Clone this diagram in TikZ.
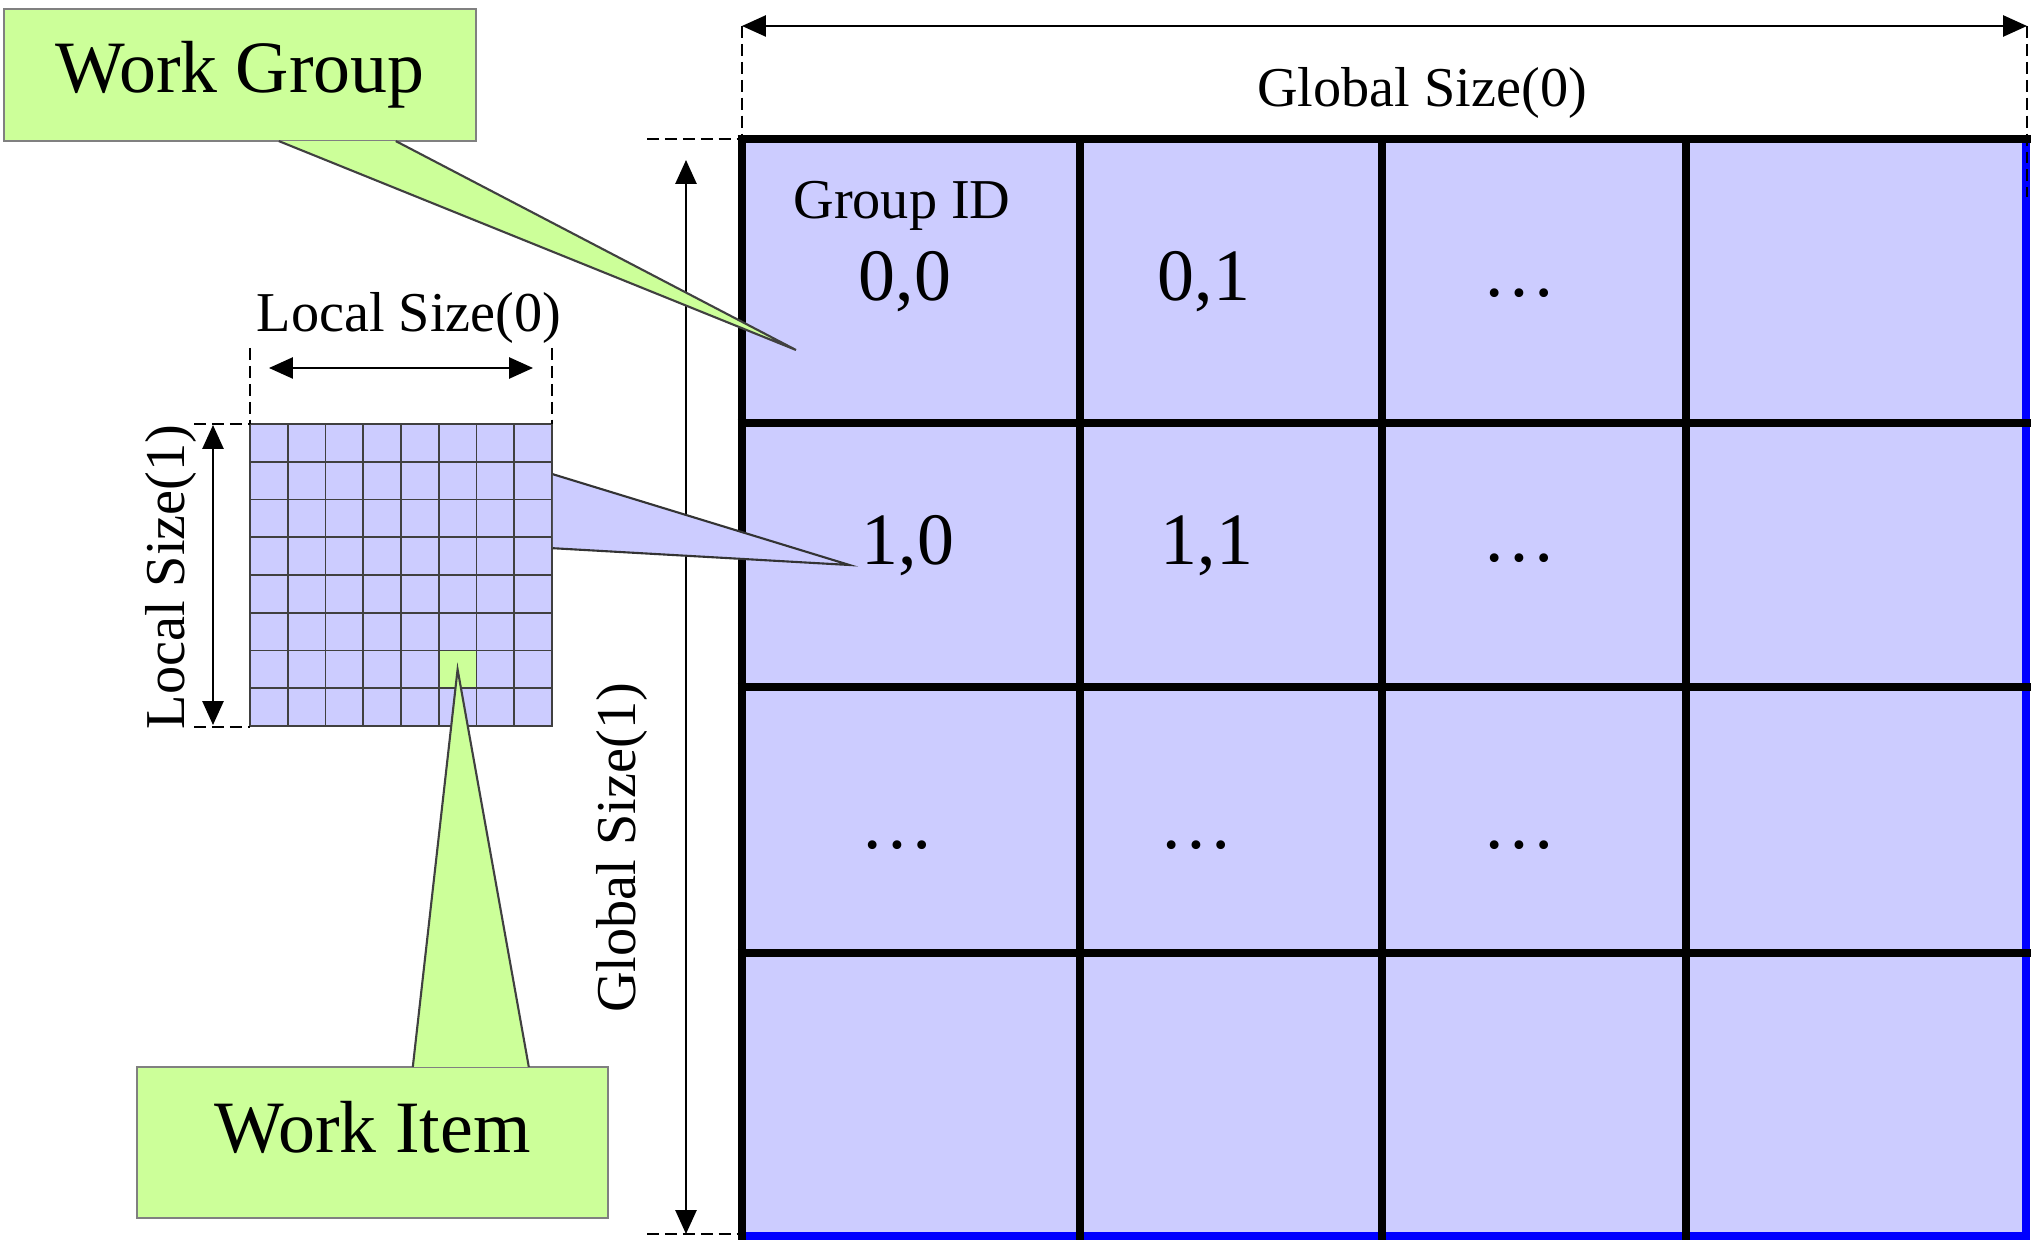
\documentclass[tikz,border=0pt]{standalone}
\usepackage{fontspec}
\setmainfont{Liberation Serif}
\usetikzlibrary{arrows.meta}
\usetikzlibrary{calc}

\definecolor{cellblue}{RGB}{204,204,255}
\definecolor{itemgreen}{RGB}{204,255,153}

\begin{document}
\begin{tikzpicture}[x=0.01cm, y=-0.01cm,
          bigtext/.style={font=\fontsize{21}{25}\selectfont},
          smalltext/.style={font=\fontsize{16}{19}\selectfont},
          gridline/.style={line width=2.5pt, color=black},
          cellline/.style={line width=0.5pt, color=black!75},
          dimline/.style={line width=0.6pt, {Triangle[length=6.8pt,width=6pt]}-{Triangle[length=6.8pt,width=6pt]}},
          extline/.style={line width=0.6pt, dash pattern=on 3.4pt off 1.7pt},
          greenbox/.style={fill=itemgreen, draw=black!50, line width=0.6pt, inner sep=0pt},
          pointer/.style={draw=black!75, line width=0.6pt}]

          \useasboundingbox (0,0) rectangle (2041,1240);

          % global grid of work groups
          \fill[cellblue] (742,139) rectangle (2026,1236);
          \draw[blue, line width=2.2pt] (2026,139) -- (2026,1236) -- (742,1236);
          \foreach \x in {742,1080,1382,1686}
            \draw[gridline] (\x,139) -- (\x,1240);
          \foreach \y in {139,423,687,953}
            \draw[gridline] (737.5,\y) -- (2031,\y);

          \node[smalltext, anchor=base] (gid) at (902,219) {Group ID};
          \node[bigtext, anchor=base] (g00) at (905,301) {0,0};
          \node[bigtext, anchor=base] (g01) at (1204,301) {0,1};
          \node[bigtext, anchor=base] (g02) at (1519,297) {\dots};
          \node[bigtext, anchor=base] (g10) at (908,565) {1,0};
          \node[bigtext, anchor=base] (g11) at (1207,565) {1,1};
          \node[bigtext, anchor=base] (g12) at (1519,562) {\dots};
          \node[bigtext, anchor=base] (g20) at (897,849) {\dots};
          \node[bigtext, anchor=base] (g21) at (1196,849) {\dots};
          \node[bigtext, anchor=base] (g22) at (1519,849) {\dots};

          % global sizes
          \draw[extline] (742,26) -- (742,139);
          \draw[extline] (2027,26) -- (2027,197);
          \draw[dimline] (742,26) -- (2027,26);
          \node[smalltext, anchor=base] (gs0) at (1422,107) {Global Size(0)};

          \draw[extline] (647,139) -- (742,139);
          \draw[extline] (647,1234) -- (742,1234);
          \draw[dimline] (686,160) -- (686,1234);
          \node[smalltext, rotate=90, anchor=base] (gs1) at (635,848) {Global Size(1)};

          % one work group, 8 x 8 work items
          \node[fill=cellblue, minimum width=3.02cm, minimum height=3.03cm, inner sep=0pt] (lg) at (401,575.5) {};
          \foreach \i in {0,...,8} {
            \draw[cellline] (250+\i*37.75,424) -- (250+\i*37.75,727);
            \draw[cellline] (250,424+\i*37.75) -- (552,424+\i*37.75);
          }
          \node[fill=itemgreen, draw=black!75, line width=0.5pt, minimum size=0.3775cm, inner sep=0pt] (item) at (457.6,669.4) {};

          % local sizes
          \draw[extline] (250,348) -- (250,424);
          \draw[extline] (552,348) -- (552,424);
          \draw[dimline] (269,368) -- (533,368);
          \node[smalltext, anchor=base] (ls0) at (409,332) {Local Size(0)};

          \draw[extline] (194,424) -- (250,424);
          \draw[extline] (194,727) -- (250,727);
          \draw[dimline] (213,425) -- (213,725);
          \node[smalltext, rotate=90, anchor=base] (ls1) at (184,577) {Local Size(1)};

          % callouts
          \node[greenbox, bigtext, minimum width=4.72cm, minimum height=1.32cm] (wg) at (240,75) {Work Group};
          \node[greenbox, bigtext, minimum width=4.71cm, minimum height=1.51cm, text depth=0.31cm] (wi) at (372.5,1142.5) {Work Item};

          \coordinate (wgtip) at (796,350);
          \filldraw[fill=itemgreen, pointer] ($(wg.south west)+(276,-1)$) -- (wgtip) -- ($(wg.south west)+(393,-1)$);
          \filldraw[fill=itemgreen, pointer] ($(wi.north west)+(277,1)$) -- (item.center) -- ($(wi.north west)+(393,1)$);
          \filldraw[fill=cellblue, draw=black!80, line width=0.6pt] ($(lg.north east)+(0,51)$) -- (g10.base west) -- ($(lg.north east)+(0,125)$);

\end{tikzpicture}
\end{document}
